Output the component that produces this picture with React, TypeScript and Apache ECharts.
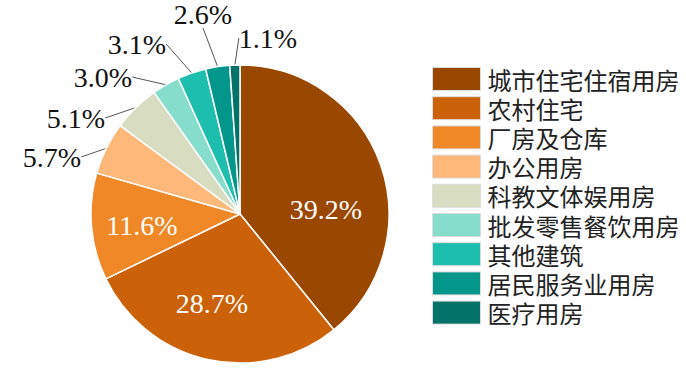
import React, { useEffect, useRef } from "react";
import * as echarts from "echarts";

const categories = [
  "城市住宅住宿用房",
  "农村住宅",
  "厂房及仓库",
  "办公用房",
  "科教文体娱用房",
  "批发零售餐饮用房",
  "其他建筑",
  "居民服务业用房",
  "医疗用房",
];
const values = [39.2, 28.7, 11.6, 5.7, 5.1, 3.0, 3.1, 2.6, 1.1];
const colors = [
  "#9A4800",
  "#CB6108",
  "#F08828",
  "#FDB87A",
  "#D8DDC2",
  "#86DDCC",
  "#1DBEAE",
  "#02978A",
  "#037268",
];
// label centre positions (layout only)
const labelPos: [number, number][] = [
  [326, 209],
  [212, 303],
  [142, 225],
  [52, 157],
  [76, 118],
  [103, 77],
  [137, 44],
  [203, 14],
  [268, 38],
];
const insideCount = 3;

export default function App() {
  const ref = useRef<HTMLDivElement>(null);
  useEffect(() => {
    document.body.style.margin = "0";
    if (!ref.current) return;
    const chart = echarts.init(ref.current, undefined, { renderer: "svg" });
    chart.setOption({
      animation: false,
      backgroundColor: "#fff",
      legend: {
        orient: "vertical",
        left: 427,
        top: 62,
        itemWidth: 48,
        itemHeight: 23,
        itemGap: 5.2,
        icon: "rect",
        itemStyle: { borderColor: "#dddddd", borderWidth: 1 },
        textStyle: {
          fontFamily: "Noto Sans CJK SC",
          fontSize: 24,
          lineHeight: 24,
          color: "#222",
          padding: [0, 0, 0, 2],
        },
        data: categories,
      },
      series: [
        {
          type: "pie",
          center: [240, 214],
          radius: 149,
          startAngle: 90,
          clockwise: true,
          avoidLabelOverlap: false,
          itemStyle: { borderColor: "#fff", borderWidth: 1.5 },
          label: {
            show: true,
            position: "outside",
            formatter: (p: any) => p.value.toFixed(1) + "%",
            fontFamily: "Liberation Serif",
            fontSize: 28,
            color: "#111",
          },
          labelLine: {
            show: true,
            length: 10,
            length2: 0,
            lineStyle: { color: "#555", width: 1 },
          },
          labelLayout: (params: any) => {
            const pos = labelPos[params.dataIndex];
            return {
              x: pos[0],
              y: pos[1],
              align: "center",
              verticalAlign: "middle",
            };
          },
          data: categories.map((name, i) => ({
            name,
            value: values[i],
            itemStyle: { color: colors[i] },
            label: i < insideCount ? { color: "#fff" } : undefined,
            labelLine: i < insideCount ? { show: false } : undefined,
          })),
        },
      ],
    });
    return () => chart.dispose();
  }, []);
  return <div ref={ref} style={{ width: 686, height: 384 }} />;
}
